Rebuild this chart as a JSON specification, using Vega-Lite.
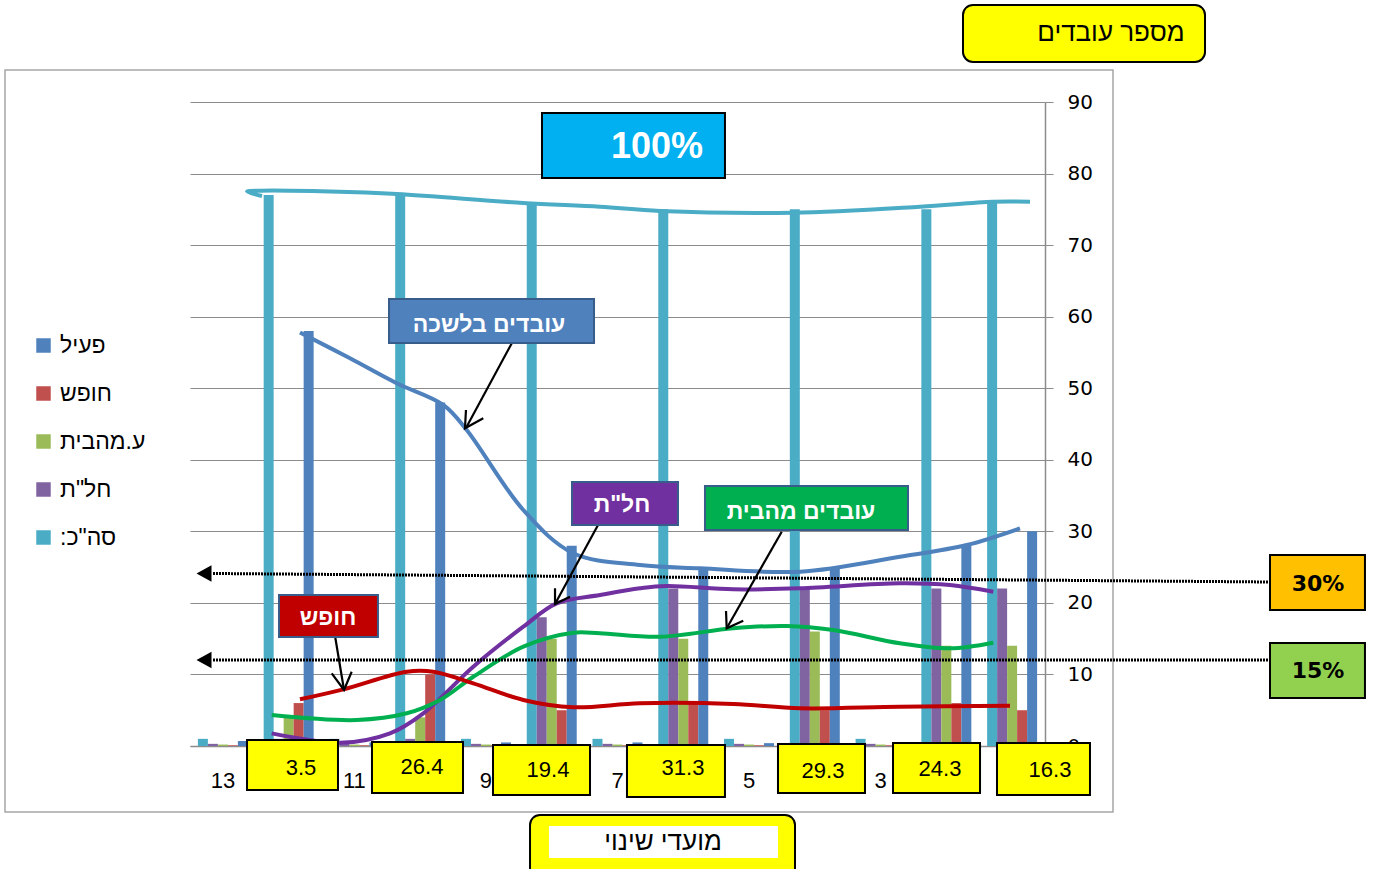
{
  "$schema": "https://vega.github.io/schema/vega-lite/v6.json",
  "autosize": {"type": "none"},
  "width": 855,
  "height": 644,
  "padding": {"left": 190, "top": 102, "right": 328, "bottom": 123},
  "background": "white",
  "config": {"view": {"stroke": null}},
  "resolve": {"scale": {"x": "independent", "y": "independent", "color": "independent", "fill": "independent", "stroke": "independent"}},
  "layer": [
    {
      "data": {"values": [
        {"cat": 13, "s": "סה\"כ:\u200F", "val": 1}, {"cat": 13, "s": "חל\"ת", "val": 0.3}, {"cat": 13, "s": "ע.מהבית", "val": 0.2}, {"cat": 13, "s": "חופש", "val": 0.1}, {"cat": 13, "s": "פעיל", "val": 0.7},
        {"cat": 12, "s": "סה\"כ:\u200F", "val": 77}, {"cat": 12, "s": "חל\"ת", "val": 1}, {"cat": 12, "s": "ע.מהבית", "val": 4}, {"cat": 12, "s": "חופש", "val": 6}, {"cat": 12, "s": "פעיל", "val": 58},
        {"cat": 11, "s": "סה\"כ:\u200F", "val": 1}, {"cat": 11, "s": "חל\"ת", "val": 0.3}, {"cat": 11, "s": "ע.מהבית", "val": 0.2}, {"cat": 11, "s": "חופש", "val": 0.1}, {"cat": 11, "s": "פעיל", "val": 0.5},
        {"cat": 10, "s": "סה\"כ:\u200F", "val": 77}, {"cat": 10, "s": "חל\"ת", "val": 1}, {"cat": 10, "s": "ע.מהבית", "val": 4}, {"cat": 10, "s": "חופש", "val": 10}, {"cat": 10, "s": "פעיל", "val": 48},
        {"cat": 9, "s": "סה\"כ:\u200F", "val": 1}, {"cat": 9, "s": "חל\"ת", "val": 0.3}, {"cat": 9, "s": "ע.מהבית", "val": 0.2}, {"cat": 9, "s": "חופש", "val": 0.1}, {"cat": 9, "s": "פעיל", "val": 0.5},
        {"cat": 8, "s": "סה\"כ:\u200F", "val": 76}, {"cat": 8, "s": "חל\"ת", "val": 18}, {"cat": 8, "s": "ע.מהבית", "val": 15}, {"cat": 8, "s": "חופש", "val": 5}, {"cat": 8, "s": "פעיל", "val": 28},
        {"cat": 7, "s": "סה\"כ:\u200F", "val": 1}, {"cat": 7, "s": "חל\"ת", "val": 0.3}, {"cat": 7, "s": "ע.מהבית", "val": 0.2}, {"cat": 7, "s": "חופש", "val": 0.1}, {"cat": 7, "s": "פעיל", "val": 0.5},
        {"cat": 6, "s": "סה\"כ:\u200F", "val": 75}, {"cat": 6, "s": "חל\"ת", "val": 22}, {"cat": 6, "s": "ע.מהבית", "val": 15}, {"cat": 6, "s": "חופש", "val": 6}, {"cat": 6, "s": "פעיל", "val": 25},
        {"cat": 5, "s": "סה\"כ:\u200F", "val": 1}, {"cat": 5, "s": "חל\"ת", "val": 0.3}, {"cat": 5, "s": "ע.מהבית", "val": 0.2}, {"cat": 5, "s": "חופש", "val": 0.1}, {"cat": 5, "s": "פעיל", "val": 0.4},
        {"cat": 4, "s": "סה\"כ:\u200F", "val": 75}, {"cat": 4, "s": "חל\"ת", "val": 22}, {"cat": 4, "s": "ע.מהבית", "val": 16}, {"cat": 4, "s": "חופש", "val": 5}, {"cat": 4, "s": "פעיל", "val": 25},
        {"cat": 3, "s": "סה\"כ:\u200F", "val": 1}, {"cat": 3, "s": "חל\"ת", "val": 0.3}, {"cat": 3, "s": "ע.מהבית", "val": 0.2}, {"cat": 3, "s": "חופש", "val": 0.1}, {"cat": 3, "s": "פעיל", "val": 0.4},
        {"cat": 2, "s": "סה\"כ:\u200F", "val": 75}, {"cat": 2, "s": "חל\"ת", "val": 22}, {"cat": 2, "s": "ע.מהבית", "val": 14}, {"cat": 2, "s": "חופש", "val": 6}, {"cat": 2, "s": "פעיל", "val": 28},
        {"cat": 1, "s": "סה\"כ:\u200F", "val": 76}, {"cat": 1, "s": "חל\"ת", "val": 22}, {"cat": 1, "s": "ע.מהבית", "val": 14}, {"cat": 1, "s": "חופש", "val": 5}, {"cat": 1, "s": "פעיל", "val": 30}
      ]},
      "mark": {"type": "bar"},
      "encoding": {
        "x": {"field": "cat", "type": "ordinal", "sort": "descending",
              "scale": {"paddingInner": 0.24, "paddingOuter": 0.12},
              "axis": {"values": [13, 11, 9, 7, 5, 3], "title": null, "ticks": false, "labelAngle": 0, "labelFont": "Liberation Sans", "labelFontSize": 22, "labelColor": "#000000", "labelPadding": 24, "domainColor": "#8C8C8C", "domainWidth": 1.5, "grid": false}},
        "xOffset": {"field": "s", "type": "nominal", "scale": {"domain": ["סה\"כ:\u200F", "חל\"ת", "ע.מהבית", "חופש", "פעיל"]}},
        "y": {"field": "val", "type": "quantitative",
              "scale": {"domain": [0, 90], "nice": false, "zero": true},
              "axis": {"orient": "right", "values": [0, 10, 20, 30, 40, 50, 60, 70, 80, 90], "title": null, "grid": true, "gridColor": "#8C8C8C", "gridWidth": 1.2, "domainColor": "#8C8C8C", "domainWidth": 1.5, "tickColor": "#8C8C8C", "tickSize": 8, "labelFont": "DejaVu Sans", "labelFontSize": 20, "labelColor": "#000000", "labelPadding": 14}},
        "color": {"field": "s", "type": "nominal",
                  "scale": {"domain": ["פעיל", "חופש", "ע.מהבית", "חל\"ת", "סה\"כ:\u200F"], "range": ["#4F81BD", "#C0504D", "#9BBB59", "#8064A2", "#4BACC6"]},
                  "legend": {"orient": "none", "legendX": -158, "legendY": 232, "title": null, "symbolType": "square", "symbolSize": 210, "symbolStrokeWidth": 0, "labelFont": "Liberation Sans", "labelFontSize": 23, "labelColor": "#000000", "rowPadding": 24, "labelOffset": 5}}
      }
    },
    {
      "data": {"values": [{"u1": -2.813, "u2": 14.034, "v1": 94.47, "v2": -9.22}]},
      "mark": {"type": "rect", "fillOpacity": 0, "stroke": "#A6A6A6", "strokeWidth": 1.5},
      "encoding": {
        "x": {"field": "u1", "type": "quantitative", "scale": {"domain": [0, 13], "nice": false, "zero": false}, "axis": null},
        "x2": {"field": "u2"},
        "y": {"field": "v1", "type": "quantitative", "scale": {"domain": [0, 90], "nice": false, "zero": false}, "axis": null},
        "y2": {"field": "v2"}
      }
    },
    {
      "data": {"values": [
        {"c": "teal", "i": 0, "u": 1.095, "v": 76.86}, {"c": "teal", "i": 1, "u": 0.867, "v": 77.49}, {"c": "teal", "i": 2, "u": 1.064, "v": 77.6}, {"c": "teal", "i": 3, "u": 2.129, "v": 77.49}, {"c": "teal", "i": 4, "u": 3.147, "v": 77.14}, {"c": "teal", "i": 5, "u": 5.063, "v": 75.89}, {"c": "teal", "i": 6, "u": 6.234, "v": 75.37}, {"c": "teal", "i": 7, "u": 7.146, "v": 74.77}, {"c": "teal", "i": 8, "u": 9.168, "v": 74.53}, {"c": "teal", "i": 9, "u": 11.099, "v": 75.37}, {"c": "teal", "i": 10, "u": 12.209, "v": 76.07}, {"c": "teal", "i": 11, "u": 12.772, "v": 76.07},
        {"c": "blue", "i": 0, "u": 1.672, "v": 57.79}, {"c": "blue", "i": 1, "u": 2.433, "v": 54.18}, {"c": "blue", "i": 2, "u": 3.143, "v": 50.69}, {"c": "blue", "i": 3, "u": 3.851, "v": 47.66}, {"c": "blue", "i": 4, "u": 4.207, "v": 44.16}, {"c": "blue", "i": 5, "u": 5.068, "v": 32.98}, {"c": "blue", "i": 6, "u": 5.828, "v": 26.93}, {"c": "blue", "i": 7, "u": 6.842, "v": 25.29}, {"c": "blue", "i": 8, "u": 7.754, "v": 24.83}, {"c": "blue", "i": 9, "u": 9.275, "v": 24.36}, {"c": "blue", "i": 10, "u": 10.795, "v": 26.45}, {"c": "blue", "i": 11, "u": 11.809, "v": 28.09}, {"c": "blue", "i": 12, "u": 12.62, "v": 30.42},
        {"c": "purple", "i": 0, "u": 1.242, "v": 1.77}, {"c": "purple", "i": 1, "u": 2.281, "v": 0.46}, {"c": "purple", "i": 2, "u": 3.041, "v": 1.77}, {"c": "purple", "i": 3, "u": 3.547, "v": 4.57}, {"c": "purple", "i": 4, "u": 4.307, "v": 11.08}, {"c": "purple", "i": 5, "u": 5.068, "v": 16.67}, {"c": "purple", "i": 6, "u": 5.575, "v": 19.94}, {"c": "purple", "i": 7, "u": 6.234, "v": 21.1}, {"c": "purple", "i": 8, "u": 6.842, "v": 22.04}, {"c": "purple", "i": 9, "u": 7.248, "v": 22.36}, {"c": "purple", "i": 10, "u": 8.26, "v": 21.9}, {"c": "purple", "i": 11, "u": 9.275, "v": 22.04}, {"c": "purple", "i": 12, "u": 10.795, "v": 22.74}, {"c": "purple", "i": 13, "u": 11.555, "v": 22.5}, {"c": "purple", "i": 14, "u": 12.214, "v": 21.56},
        {"c": "green", "i": 0, "u": 1.242, "v": 4.33}, {"c": "green", "i": 1, "u": 2.535, "v": 3.63}, {"c": "green", "i": 2, "u": 3.295, "v": 4.57}, {"c": "green", "i": 3, "u": 3.801, "v": 6.43}, {"c": "green", "i": 4, "u": 4.307, "v": 9.68}, {"c": "green", "i": 5, "u": 5.068, "v": 13.88}, {"c": "green", "i": 6, "u": 5.828, "v": 15.83}, {"c": "green", "i": 7, "u": 6.234, "v": 15.75}, {"c": "green", "i": 8, "u": 7.146, "v": 15.27}, {"c": "green", "i": 9, "u": 8.26, "v": 16.45}, {"c": "green", "i": 10, "u": 9.072, "v": 16.77}, {"c": "green", "i": 11, "u": 9.781, "v": 16.21}, {"c": "green", "i": 12, "u": 10.795, "v": 14.35}, {"c": "green", "i": 13, "u": 11.555, "v": 13.65}, {"c": "green", "i": 14, "u": 12.214, "v": 14.44},
        {"c": "red", "i": 0, "u": 1.672, "v": 6.53}, {"c": "red", "i": 1, "u": 2.331, "v": 7.92}, {"c": "red", "i": 2, "u": 3.295, "v": 10.38}, {"c": "red", "i": 3, "u": 3.699, "v": 10.38}, {"c": "red", "i": 4, "u": 4.307, "v": 8.76}, {"c": "red", "i": 5, "u": 5.068, "v": 6.43}, {"c": "red", "i": 6, "u": 5.828, "v": 5.41}, {"c": "red", "i": 7, "u": 6.842, "v": 5.97}, {"c": "red", "i": 8, "u": 8.26, "v": 5.87}, {"c": "red", "i": 9, "u": 9.275, "v": 5.27}, {"c": "red", "i": 10, "u": 10.795, "v": 5.49}, {"c": "red", "i": 11, "u": 12.468, "v": 5.63}
      ]},
      "mark": {"type": "line", "interpolate": "catmull-rom", "strokeWidth": 4, "strokeCap": "butt"},
      "encoding": {
        "x": {"field": "u", "type": "quantitative", "scale": {"domain": [0, 13], "nice": false, "zero": false}, "axis": null},
        "y": {"field": "v", "type": "quantitative", "scale": {"domain": [0, 90], "nice": false, "zero": false}, "axis": null},
        "order": {"field": "i", "type": "quantitative"},
        "color": {"field": "c", "type": "nominal", "scale": {"domain": ["teal", "blue", "purple", "green", "red"], "range": ["#4BACC6", "#4F81BD", "#7030A0", "#00B050", "#C00000"]}, "legend": null}
      }
    },
    {
      "data": {"values": [
        {"l": "a", "u": 0.35, "v": 24.11}, {"l": "a", "u": 16.421, "v": 22.92},
        {"l": "b", "u": 0.35, "v": 12.02}, {"l": "b", "u": 16.421, "v": 12.02}
      ]},
      "mark": {"type": "line", "color": "#000000", "strokeWidth": 3, "strokeDash": [2, 1]},
      "encoding": {
        "x": {"field": "u", "type": "quantitative", "scale": {"domain": [0, 13], "nice": false, "zero": false}, "axis": null},
        "y": {"field": "v", "type": "quantitative", "scale": {"domain": [0, 90], "nice": false, "zero": false}, "axis": null},
        "detail": {"field": "l"}
      }
    },
    {
      "data": {"values": [{"u": 0.213, "v": 24.11}, {"u": 0.213, "v": 12.02}]},
      "mark": {"type": "point", "shape": "M-1,0L1,-1.1L1,1.1Z", "size": 225, "filled": true, "color": "#000000", "opacity": 1},
      "encoding": {
        "x": {"field": "u", "type": "quantitative", "scale": {"domain": [0, 13], "nice": false, "zero": false}, "axis": null},
        "y": {"field": "v", "type": "quantitative", "scale": {"domain": [0, 90], "nice": false, "zero": false}, "axis": null}
      }
    },
    {
      "data": {"values": [
        {"a": "1s", "i": 0, "u": 4.911, "v": 56.6}, {"a": "1s", "i": 1, "u": 4.196, "v": 44.44},
        {"a": "1h", "i": 0, "u": 4.459, "v": 45.8}, {"a": "1h", "i": 1, "u": 4.181, "v": 44.4}, {"a": "1h", "i": 2, "u": 4.196, "v": 46.96},
        {"a": "2s", "i": 0, "u": 6.26, "v": 31.82}, {"a": "2s", "i": 1, "u": 5.55, "v": 19.84},
        {"a": "2h", "i": 0, "u": 5.778, "v": 20.86}, {"a": "2h", "i": 1, "u": 5.55, "v": 19.84}, {"a": "2h", "i": 2, "u": 5.55, "v": 22.04},
        {"a": "3s", "i": 0, "u": 8.997, "v": 29.95}, {"a": "3s", "i": 1, "u": 8.16, "v": 16.45},
        {"a": "3h", "i": 0, "u": 8.412, "v": 17.51}, {"a": "3h", "i": 1, "u": 8.16, "v": 16.45}, {"a": "3h", "i": 2, "u": 8.15, "v": 18.87},
        {"a": "4s", "i": 0, "u": 2.205, "v": 15.37}, {"a": "4s", "i": 1, "u": 2.342, "v": 7.83},
        {"a": "4h", "i": 0, "u": 2.155, "v": 10.16}, {"a": "4h", "i": 1, "u": 2.342, "v": 7.83}, {"a": "4h", "i": 2, "u": 2.458, "v": 10.38}
      ]},
      "mark": {"type": "line", "color": "#000000", "strokeWidth": 2.2},
      "encoding": {
        "x": {"field": "u", "type": "quantitative", "scale": {"domain": [0, 13], "nice": false, "zero": false}, "axis": null},
        "y": {"field": "v", "type": "quantitative", "scale": {"domain": [0, 90], "nice": false, "zero": false}, "axis": null},
        "detail": {"field": "a"},
        "order": {"field": "i", "type": "quantitative"}
      }
    },
    {
      "data": {"values": [
        {"k": "cyan", "sk": "black", "u1": 5.352, "u2": 8.134, "v1": 88.46, "v2": 79.38},
        {"k": "blue", "sk": "navy", "u1": 3.026, "u2": 6.143, "v1": 62.47, "v2": 56.32},
        {"k": "purple", "sk": "navy", "u1": 5.808, "u2": 7.42, "v1": 36.89, "v2": 30.88},
        {"k": "green", "sk": "navy", "u1": 7.83, "u2": 10.917, "v1": 36.34, "v2": 30.19},
        {"k": "red", "sk": "navy", "u1": 1.353, "u2": 2.858, "v1": 21.1, "v2": 15.23},
        {"k": "orange", "sk": "black", "u1": 16.421, "u2": 17.865, "v1": 26.69, "v2": 19.01},
        {"k": "lime", "sk": "black", "u1": 16.421, "u2": 17.865, "v1": 14.39, "v2": 6.71},
        {"k": "yellow", "sk": "black", "u1": 0.867, "u2": 2.25, "v1": 0.84, "v2": -6.15},
        {"k": "yellow", "sk": "black", "u1": 2.767, "u2": 4.151, "v1": 0.56, "v2": -6.57},
        {"k": "yellow", "sk": "black", "u1": 4.607, "u2": 6.082, "v1": 0.14, "v2": -6.85},
        {"k": "yellow", "sk": "black", "u1": 6.644, "u2": 8.134, "v1": 0.14, "v2": -7.13},
        {"k": "yellow", "sk": "black", "u1": 8.94, "u2": 10.263, "v1": 0.28, "v2": -6.57},
        {"k": "yellow", "sk": "black", "u1": 10.689, "u2": 12.012, "v1": 0.42, "v2": -6.57},
        {"k": "yellow", "sk": "black", "u1": 12.27, "u2": 13.684, "v1": 0.42, "v2": -6.85}
      ]},
      "mark": {"type": "rect", "strokeWidth": 2},
      "encoding": {
        "x": {"field": "u1", "type": "quantitative", "scale": {"domain": [0, 13], "nice": false, "zero": false}, "axis": null},
        "x2": {"field": "u2"},
        "y": {"field": "v1", "type": "quantitative", "scale": {"domain": [0, 90], "nice": false, "zero": false}, "axis": null},
        "y2": {"field": "v2"},
        "fill": {"field": "k", "type": "nominal", "scale": {"domain": ["cyan", "blue", "purple", "green", "red", "orange", "lime", "yellow"], "range": ["#00B0F0", "#4F81BD", "#7030A0", "#00B050", "#C00000", "#FFC000", "#92D050", "#FFFF00"]}, "legend": null},
        "stroke": {"field": "sk", "type": "nominal", "scale": {"domain": ["black", "navy"], "range": ["#000000", "#385D8A"]}, "legend": null}
      }
    },
    {
      "data": {"values": [
        {"u1": 11.753, "u2": 15.433, "v1": 103.56, "v2": 95.59},
        {"u1": 5.17, "u2": 9.199, "v1": -9.64, "v2": -18.73}
      ]},
      "mark": {"type": "rect", "cornerRadius": 10, "fill": "#FFFF00", "stroke": "#000000", "strokeWidth": 2},
      "encoding": {
        "x": {"field": "u1", "type": "quantitative", "scale": {"domain": [0, 13], "nice": false, "zero": false}, "axis": null},
        "x2": {"field": "u2"},
        "y": {"field": "v1", "type": "quantitative", "scale": {"domain": [0, 90], "nice": false, "zero": false}, "axis": null},
        "y2": {"field": "v2"}
      }
    },
    {
      "data": {"values": [
        {"u1": 5.458, "u2": 8.94, "v1": -11.18, "v2": -15.65}
      ]},
      "mark": {"type": "rect", "fill": "#FFFFFF", "strokeWidth": 0},
      "encoding": {
        "x": {"field": "u1", "type": "quantitative", "scale": {"domain": [0, 13], "nice": false, "zero": false}, "axis": null},
        "x2": {"field": "u2"},
        "y": {"field": "v1", "type": "quantitative", "scale": {"domain": [0, 90], "nice": false, "zero": false}, "axis": null},
        "y2": {"field": "v2"}
      }
    },
    {
      "data": {"values": [
        {"t": "עובדים בלשכה", "u": 4.546, "v": 58.83},
        {"t": "חל\"ת", "u": 6.568, "v": 33.68},
        {"t": "עובדים מהבית", "u": 9.29, "v": 32.7},
        {"t": "חופש", "u": 2.098, "v": 17.89}
      ]},
      "mark": {"type": "text", "font": "Liberation Sans", "fontWeight": "bold", "fontSize": 23, "color": "#FFFFFF", "align": "center", "baseline": "middle"},
      "encoding": {
        "x": {"field": "u", "type": "quantitative", "scale": {"domain": [0, 13], "nice": false, "zero": false}, "axis": null},
        "y": {"field": "v", "type": "quantitative", "scale": {"domain": [0, 90], "nice": false, "zero": false}, "axis": null},
        "text": {"field": "t"}
      }
    },
    {
      "data": {"values": [{"t": "100%", "u": 7.101, "v": 83.71}]},
      "mark": {"type": "text", "font": "Liberation Sans", "fontWeight": "bold", "fontSize": 36, "color": "#FFFFFF", "align": "center", "baseline": "middle"},
      "encoding": {
        "x": {"field": "u", "type": "quantitative", "scale": {"domain": [0, 13], "nice": false, "zero": false}, "axis": null},
        "y": {"field": "v", "type": "quantitative", "scale": {"domain": [0, 90], "nice": false, "zero": false}, "axis": null},
        "text": {"field": "t"}
      }
    },
    {
      "data": {"values": [{"t": "30%", "u": 17.151, "v": 22.64}, {"t": "15%", "u": 17.151, "v": 10.48}]},
      "mark": {"type": "text", "font": "DejaVu Sans", "fontWeight": "bold", "fontSize": 22, "color": "#000000", "align": "center", "baseline": "middle"},
      "encoding": {
        "x": {"field": "u", "type": "quantitative", "scale": {"domain": [0, 13], "nice": false, "zero": false}, "axis": null},
        "y": {"field": "v", "type": "quantitative", "scale": {"domain": [0, 90], "nice": false, "zero": false}, "axis": null},
        "text": {"field": "t"}
      }
    },
    {
      "data": {"values": [
        {"t": "מספר עובדים", "u": 14.003, "v": 99.64},
        {"t": "מועדי שינוי", "u": 7.192, "v": -13.42}
      ]},
      "mark": {"type": "text", "font": "Liberation Sans", "fontSize": 26, "color": "#000000", "align": "center", "baseline": "middle"},
      "encoding": {
        "x": {"field": "u", "type": "quantitative", "scale": {"domain": [0, 13], "nice": false, "zero": false}, "axis": null},
        "y": {"field": "v", "type": "quantitative", "scale": {"domain": [0, 90], "nice": false, "zero": false}, "axis": null},
        "text": {"field": "t"}
      }
    },
    {
      "data": {"values": [
        {"t": "3.5", "u": 1.688, "v": -3.07},
        {"t": "26.4", "u": 3.527, "v": -2.93},
        {"t": "19.4", "u": 5.443, "v": -3.35},
        {"t": "31.3", "u": 7.496, "v": -3.07},
        {"t": "29.3", "u": 9.624, "v": -3.49},
        {"t": "24.3", "u": 11.403, "v": -3.21},
        {"t": "16.3", "u": 13.076, "v": -3.35}
      ]},
      "mark": {"type": "text", "font": "Liberation Sans", "fontSize": 22, "color": "#000000", "align": "center", "baseline": "middle"},
      "encoding": {
        "x": {"field": "u", "type": "quantitative", "scale": {"domain": [0, 13], "nice": false, "zero": false}, "axis": null},
        "y": {"field": "v", "type": "quantitative", "scale": {"domain": [0, 90], "nice": false, "zero": false}, "axis": null},
        "text": {"field": "t"}
      }
    }
  ]
}
